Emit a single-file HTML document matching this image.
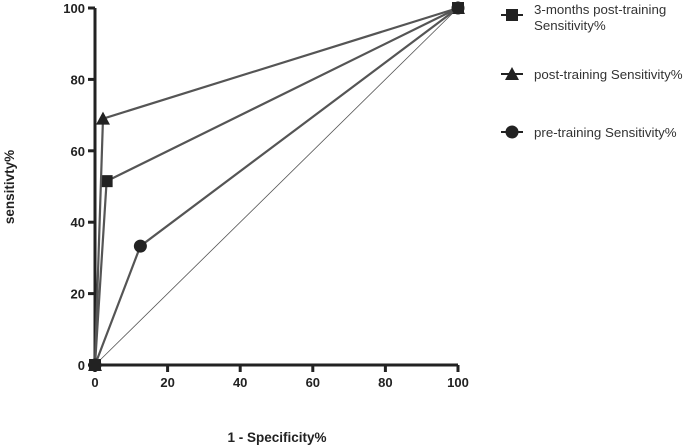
<!DOCTYPE html>
<html><head><meta charset="utf-8"><style>
body{margin:0;background:#fff;}
svg{display:block;font-family:"Liberation Sans",Arial,sans-serif;}
</style></head><body>
<svg id="c" width="685" height="446" viewBox="0 0 685 446"></svg>
<script>
const xTicks=[0,20,40,60,80,100];
const yTicks=[0,20,40,60,80,100];
const seriesNames=["3-months post-training Sensitivity%","post-training Sensitivity%","pre-training Sensitivity%"];
const seriesX=[[0,3.2,100],[0,2.2,100],[0,12.5,100]];
const seriesY=[[0,51.5,100],[0,69,100],[0,33.3,100]];
const markers=["square","triangle","circle"];
const NS="http://www.w3.org/2000/svg";
const svg=document.getElementById('c');
const X0=95,X1=458,Y0=365,Y1=8;
const sx=v=>X0+(X1-X0)*v/100, sy=v=>Y0-(Y0-Y1)*v/100;
function mk(t,a,p){const e=document.createElementNS(NS,t);for(const k in a)e.setAttribute(k,a[k]);(p||svg).appendChild(e);return e;}
function marker(type,x,y,p){
 if(type==="square")return mk('rect',{x:x-6,y:y-6,width:12,height:12,fill:'#222'},p);
 if(type==="triangle")return mk('polygon',{points:`${x},${y-7} ${x-7},${y+6} ${x+7},${y+6}`,fill:'#222'},p);
 return mk('circle',{cx:x,cy:y,r:6.5,fill:'#222'},p);
}
let d=mk('line',{x1:sx(0),y1:sy(0),x2:sx(100),y2:sy(100),stroke:'#555','stroke-width':0.8});


let ax=mk('path',{d:`M${X0},${Y1} V${Y0} H${X1}`,stroke:'#222','stroke-width':3,fill:'none'});


xTicks.forEach(t=>{
 mk('line',{x1:sx(t),y1:Y0,x2:sx(t),y2:Y0+7,stroke:'#222','stroke-width':3});
 let l=mk('text',{x:sx(t),y:Y0+22,'text-anchor':'middle','font-size':13,'font-weight':'bold',fill:'#222'});
 l.textContent=t;
 
 
});
yTicks.forEach(t=>{
 mk('line',{x1:X0-7,y1:sy(t),x2:X0,y2:sy(t),stroke:'#222','stroke-width':3});
 let l=mk('text',{x:X0-10,y:sy(t)+5,'text-anchor':'end','font-size':13,'font-weight':'bold',fill:'#222'});
 l.textContent=t;
 
 
});
let xt=mk('text',{x:277,y:442,'text-anchor':'middle','font-size':13.5,'font-weight':'bold',fill:'#222'});
xt.textContent='1 - Specificity%';


let yt=mk('text',{x:0,y:0,transform:'translate(14,187) rotate(-90)','text-anchor':'middle','font-size':13.5,'font-weight':'bold',fill:'#222'});
yt.textContent='sensitivty%';


seriesX.forEach((xs,i)=>{
 const g=mk('g',{});
 
 
 mk('polyline',{points:xs.map((x,j)=>sx(x)+','+sy(seriesY[i][j])).join(' '),fill:'none',stroke:'#555','stroke-width':2.2},g);
 xs.forEach((x,j)=>{const m=marker(markers[i],sx(x),sy(seriesY[i][j]),g);
  
  });
});
const ly=[15,74,132];
seriesNames.forEach((n,i)=>{
 const g=mk('g',{});
 
 
 mk('line',{x1:501,y1:ly[i],x2:523,y2:ly[i],stroke:'#222','stroke-width':2},g);
 marker(markers[i],512,ly[i],g);
 const t=mk('text',{x:534,y:ly[i]+(i===0?-1:5),'font-size':13.3,fill:'#333'},g);
 if(i===0){t.textContent='3-months post-training';
  const t2=mk('text',{x:534,y:ly[i]+15,'font-size':13.3,fill:'#333'},g);t2.textContent='Sensitivity%';}
 else t.textContent=n;
});
</script>
</body></html>
